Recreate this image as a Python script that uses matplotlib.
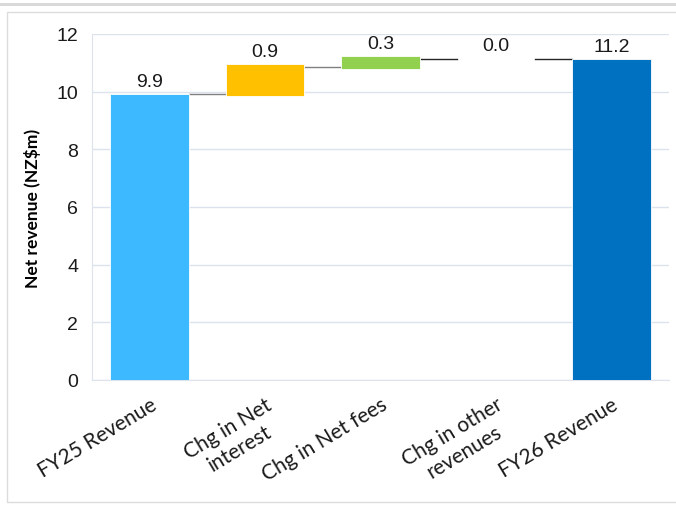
import matplotlib
matplotlib.use("Agg")
from matplotlib import pyplot as plt
from matplotlib.patches import Rectangle

# Données
categories = ["FY25 Revenue", "Chg in Net\ninterest", "Chg in Net fees", "Chg in other\nrevenues", "FY26 Revenue"]
bar_bottoms = [0.0, 9.84, 10.78, 11.15, 0.0]
bar_tops = [9.91, 10.95, 11.24, 11.15, 11.13]
connector_levels = [9.92, 10.87, 11.15, 11.15]
value_labels = ["9.9", "0.9", "0.3", "0.0", "11.2"]
bar_colors = ["#3db9ff", "#ffc000", "#92d050", "#ffffff", "#0070c0"]
connector_colors = ["#808080", "#808080", "#262626", "#262626"]

W, H = 676, 506
fig = plt.figure(figsize=(W / 100, H / 100), dpi=100)

# Cadre et bande grise
fig.patches.append(Rectangle((0, 1 - 7 / H), 1, 3 / H, transform=fig.transFigure,
                             facecolor="#d9d9d9", edgecolor="none"))
fig.patches.append(Rectangle((7 / W, 1 - 503 / H), 1, 490 / H, transform=fig.transFigure,
                             facecolor="none", edgecolor="#dcdcdc", lw=1))

ax = fig.add_axes([92 / W, 1 - 381 / H, (669 - 92) / W, (381 - 35) / H])

x = range(len(categories))
width = 0.68
for i in x:
    h = bar_tops[i] - bar_bottoms[i]
    if h > 0:
        ax.bar(i, h, bottom=bar_bottoms[i], width=width, color=bar_colors[i],
               edgecolor="white", linewidth=0.6, zorder=3)
    ax.annotate(value_labels[i], (i, bar_tops[i]), xytext=(0, 3), textcoords="offset points",
                ha="center", va="bottom", fontsize=14, family="Liberation Sans", color="#1a1a1a")

# Lignes de liaison
for i, lvl in enumerate(connector_levels):
    ax.plot([i + width / 2, i + 1 - width / 2], [lvl, lvl], color=connector_colors[i], lw=1, zorder=2)

ax.set_xlim(-0.5, len(categories) - 0.5)
ax.set_ylim(0, 12)
ax.set_yticks(range(0, 13, 2))
ax.set_yticklabels([str(v) for v in range(0, 13, 2)], fontsize=14, family="Liberation Sans", color="#1a1a1a")
ax.set_xticks(list(x))
ax.set_xticklabels(categories, rotation=31, ha="right", rotation_mode="anchor",
                   fontsize=15, family="Lato", color="#1a1a1a", multialignment="center")
ax.tick_params(axis="both", length=0)
ax.tick_params(axis="y", pad=10)
ax.tick_params(axis="x", pad=10)
ax.grid(axis="y", color="#dde3ec", lw=1, zorder=0)
ax.set_axisbelow(True)
for s in ["top", "right"]:
    ax.spines[s].set_visible(False)
ax.spines["left"].set_color("#dde3ec")
ax.spines["bottom"].set_color("#dde3ec")
ax.set_ylabel("Net revenue (NZ$m)", fontsize=12.5, fontweight="bold", family="Lato", labelpad=11)

fig.savefig("out.png", dpi=100)
